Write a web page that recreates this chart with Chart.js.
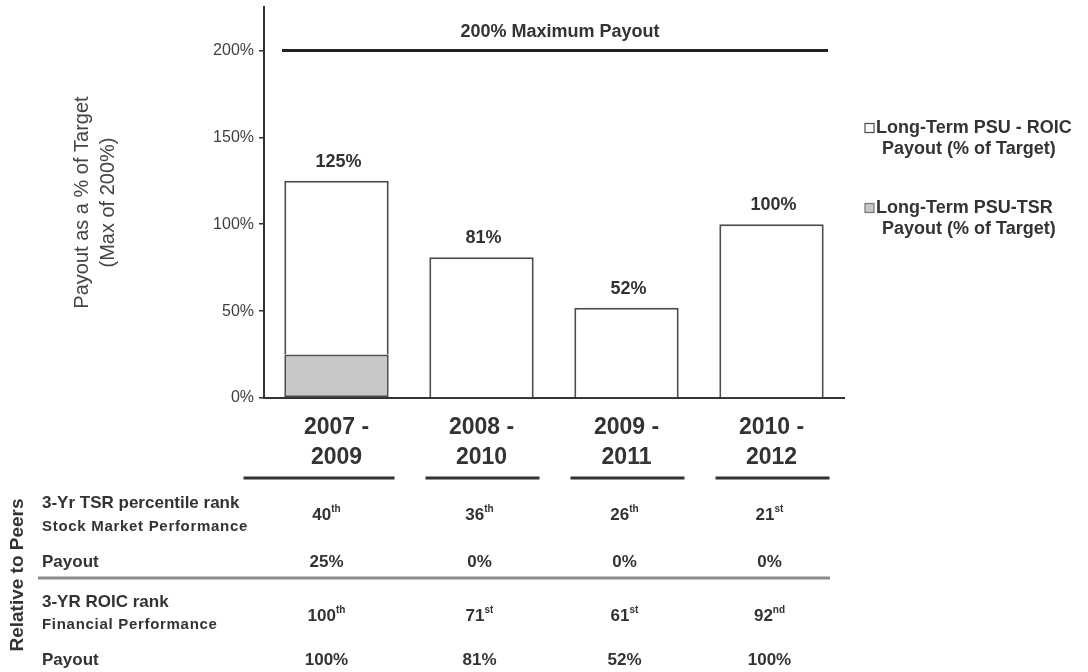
<!DOCTYPE html>
<html>
<head>
<meta charset="utf-8">
<script src="https://cdn.jsdelivr.net/npm/chart.js@4"></script>
<style>
  html, body { margin: 0; padding: 0; background: #fff; }
  #wrap { width: 1088px; height: 672px; position: relative; }
</style>
</head>
<body>
<div id="wrap"><canvas id="payoutChart" width="1088" height="672"></canvas></div>
<script>
// Data
const periods = [['2007 -', '2009'], ['2008 -', '2010'], ['2009 -', '2011'], ['2010 -', '2012']];
const tsrPayout = [25, 0, 0, 0];
const roicPayout = [100, 81, 52, 100];
const tsrRank = ['40', '36', '26', '21'];
const tsrRankSuffix = ['th', 'th', 'th', 'st'];
const roicRank = ['100', '71', '61', '92'];
const roicRankSuffix = ['th', 'st', 'st', 'nd'];
const yTickValues = [0, 50, 100, 150, 200];
const maxPayout = 200;
const yAxisMax = 225;

const FONT = "'Liberation Sans', Arial, sans-serif";
const TEXT = '#333';
const GREY_FILL = '#c7c8ca';
const EDGE = '#4d4d4d';

function withSup(ctx, num, sup, cx, cy) {
    ctx.font = 'bold 17px ' + FONT;
    const w1 = ctx.measureText(num).width;
    ctx.font = 'bold 10px ' + FONT;
    const w2 = ctx.measureText(sup).width;
    const x0 = cx - (w1 + w2) / 2;
    ctx.textAlign = 'left';
    ctx.font = 'bold 17px ' + FONT;
    ctx.fillText(num, x0, cy);
    ctx.font = 'bold 10px ' + FONT;
    ctx.fillText(sup, x0 + w1, cy - 6);
}

// Everything the library doesn't draw itself: max line, totals, legend, table
const extrasPlugin = {
    id: 'extras',
    afterDraw(chart) {
        const ctx = chart.ctx;
        const x = chart.scales.x;
        const y = chart.scales.y;
        const area = chart.chartArea;
        ctx.save();
        ctx.fillStyle = TEXT;
        ctx.textBaseline = 'middle';

        // 200% maximum line
        const yMax = y.getPixelForValue(maxPayout);
        ctx.strokeStyle = '#222';
        ctx.lineWidth = 3;
        ctx.beginPath();
        ctx.moveTo(area.left + 18, yMax);
        ctx.lineTo(area.right - 16, yMax);
        ctx.stroke();
        ctx.textAlign = 'center';
        ctx.font = 'bold 18px ' + FONT;
        ctx.fillText(maxPayout + '% Maximum Payout', (area.left + area.right) / 2 + 6, yMax - 18);

        // totals above bars
        periods.forEach((p, i) => {
            const total = tsrPayout[i] + roicPayout[i];
            ctx.fillText(total + '%', x.getPixelForValue(i) + 2, y.getPixelForValue(total) - 19);
        });

        // category underlines
        ctx.strokeStyle = '#333';
        ctx.lineWidth = 3;
        periods.forEach((p, i) => {
            const cx = x.getPixelForValue(i);
            const l = i === 0 ? cx - 93 : cx - 56;
            ctx.beginPath();
            ctx.moveTo(l, 478);
            ctx.lineTo(cx + 58, 478);
            ctx.stroke();
        });

        // legend
        const legend = [
            { fill: '#fff', stroke: EDGE, lines: ['Long-Term PSU - ROIC', 'Payout (% of Target)'], y: 128 },
            { fill: GREY_FILL, stroke: '#777', lines: ['Long-Term PSU-TSR', 'Payout (% of Target)'], y: 208 }
        ];
        ctx.font = 'bold 18px ' + FONT;
        ctx.textAlign = 'left';
        legend.forEach(item => {
            ctx.fillStyle = item.fill;
            ctx.strokeStyle = item.stroke;
            ctx.lineWidth = 1.2;
            ctx.fillRect(865, item.y - 4.5, 9, 9);
            ctx.strokeRect(865, item.y - 4.5, 9, 9);
            ctx.fillStyle = TEXT;
            ctx.fillText(item.lines[0], 876, item.y);
            ctx.fillText(item.lines[1], 882, item.y + 21);
        });

        // table below the chart
        ctx.fillStyle = TEXT;
        ctx.textAlign = 'left';
        ctx.font = 'bold 17px ' + FONT;
        ctx.fillText('3-Yr TSR percentile rank', 42, 503);
        ctx.fillText('Payout', 42, 562);
        ctx.fillText('3-YR ROIC rank', 42, 602);
        ctx.fillText('Payout', 42, 660);
        ctx.font = 'bold 15px ' + FONT;
        ctx.letterSpacing = '0.7px';
        ctx.fillText('Stock Market Performance', 42, 527);
        ctx.fillText('Financial Performance', 42, 625);
        ctx.letterSpacing = '0px';

        ctx.strokeStyle = '#8a8a8a';
        ctx.lineWidth = 3;
        ctx.beginPath();
        ctx.moveTo(38, 578);
        ctx.lineTo(830, 578);
        ctx.stroke();

        periods.forEach((p, i) => {
            const cx = x.getPixelForValue(i) - (i === 0 ? 10 : 2);
            withSup(ctx, tsrRank[i], tsrRankSuffix[i], cx, 515);
            withSup(ctx, roicRank[i], roicRankSuffix[i], cx, 616);
            ctx.textAlign = 'center';
            ctx.font = 'bold 17px ' + FONT;
            ctx.fillText(tsrPayout[i] + '%', cx, 562);
            ctx.fillText(roicPayout[i] + '%', cx, 660);
        });

        ctx.translate(18, 575);
        ctx.rotate(-Math.PI / 2);
        ctx.textAlign = 'center';
        ctx.font = 'bold 19px ' + FONT;
        ctx.fillText('Relative to Peers', 0, 0);
        ctx.restore();
    }
};

const ctx = document.getElementById('payoutChart').getContext('2d');
const payoutChart = new Chart(ctx, {
    type: 'bar',
    data: {
        labels: periods,
        datasets: [
            {
                label: 'Long-Term PSU-TSR Payout (% of Target)',
                data: tsrPayout,
                backgroundColor: GREY_FILL,
                borderColor: EDGE,
                borderWidth: c => (c.raw ? 2 : 0),
                borderSkipped: false
            },
            {
                label: 'Long-Term PSU - ROIC Payout (% of Target)',
                data: roicPayout,
                backgroundColor: '#fff',
                borderColor: EDGE,
                borderWidth: 2,
                borderSkipped: 'start'
            }
        ]
    },
    plugins: [extrasPlugin],
    options: {
        responsive: false,
        animation: false,
        layout: { padding: { left: 0, top: 7, right: 244, bottom: 200 } },
        plugins: {
            legend: { display: false },
            tooltip: { enabled: false }
        },
        scales: {
            x: {
                stacked: true,
                barPercentage: 0.72,
                categoryPercentage: 1,
                grid: { display: false, drawTicks: false },
                border: { display: true, color: '#333', width: 2 },
                ticks: {
                    color: TEXT,
                    padding: 15,
                    maxRotation: 0,
                    font: { family: FONT, size: 23, weight: 'bold', lineHeight: 1.3 }
                },
                afterFit: s => { s.height = 74; }
            },
            y: {
                stacked: true,
                min: 0,
                max: yAxisMax,
                grid: { drawOnChartArea: false, drawTicks: true, tickLength: 5, color: '#333', lineWidth: 1.5 },
                border: { display: true, color: '#333', width: 2 },
                ticks: {
                    stepSize: 50,
                    color: '#3f3f3f',
                    padding: 5,
                    font: { family: FONT, size: 16 },
                    callback: v => v + '%'
                },
                afterBuildTicks: s => { s.ticks = yTickValues.map(v => ({ value: v })); },
                title: {
                    display: true,
                    text: ['Payout as a % of Target', '(Max of 200%)'],
                    color: '#444',
                    padding: { top: 69, bottom: 0 },
                    font: { family: FONT, size: 20, lineHeight: 1.3 }
                },
                afterFit: s => { s.width = 264; s.paddingTop = 0; s.paddingBottom = 0; }
            }
        }
    }
});
</script>
</body>
</html>
